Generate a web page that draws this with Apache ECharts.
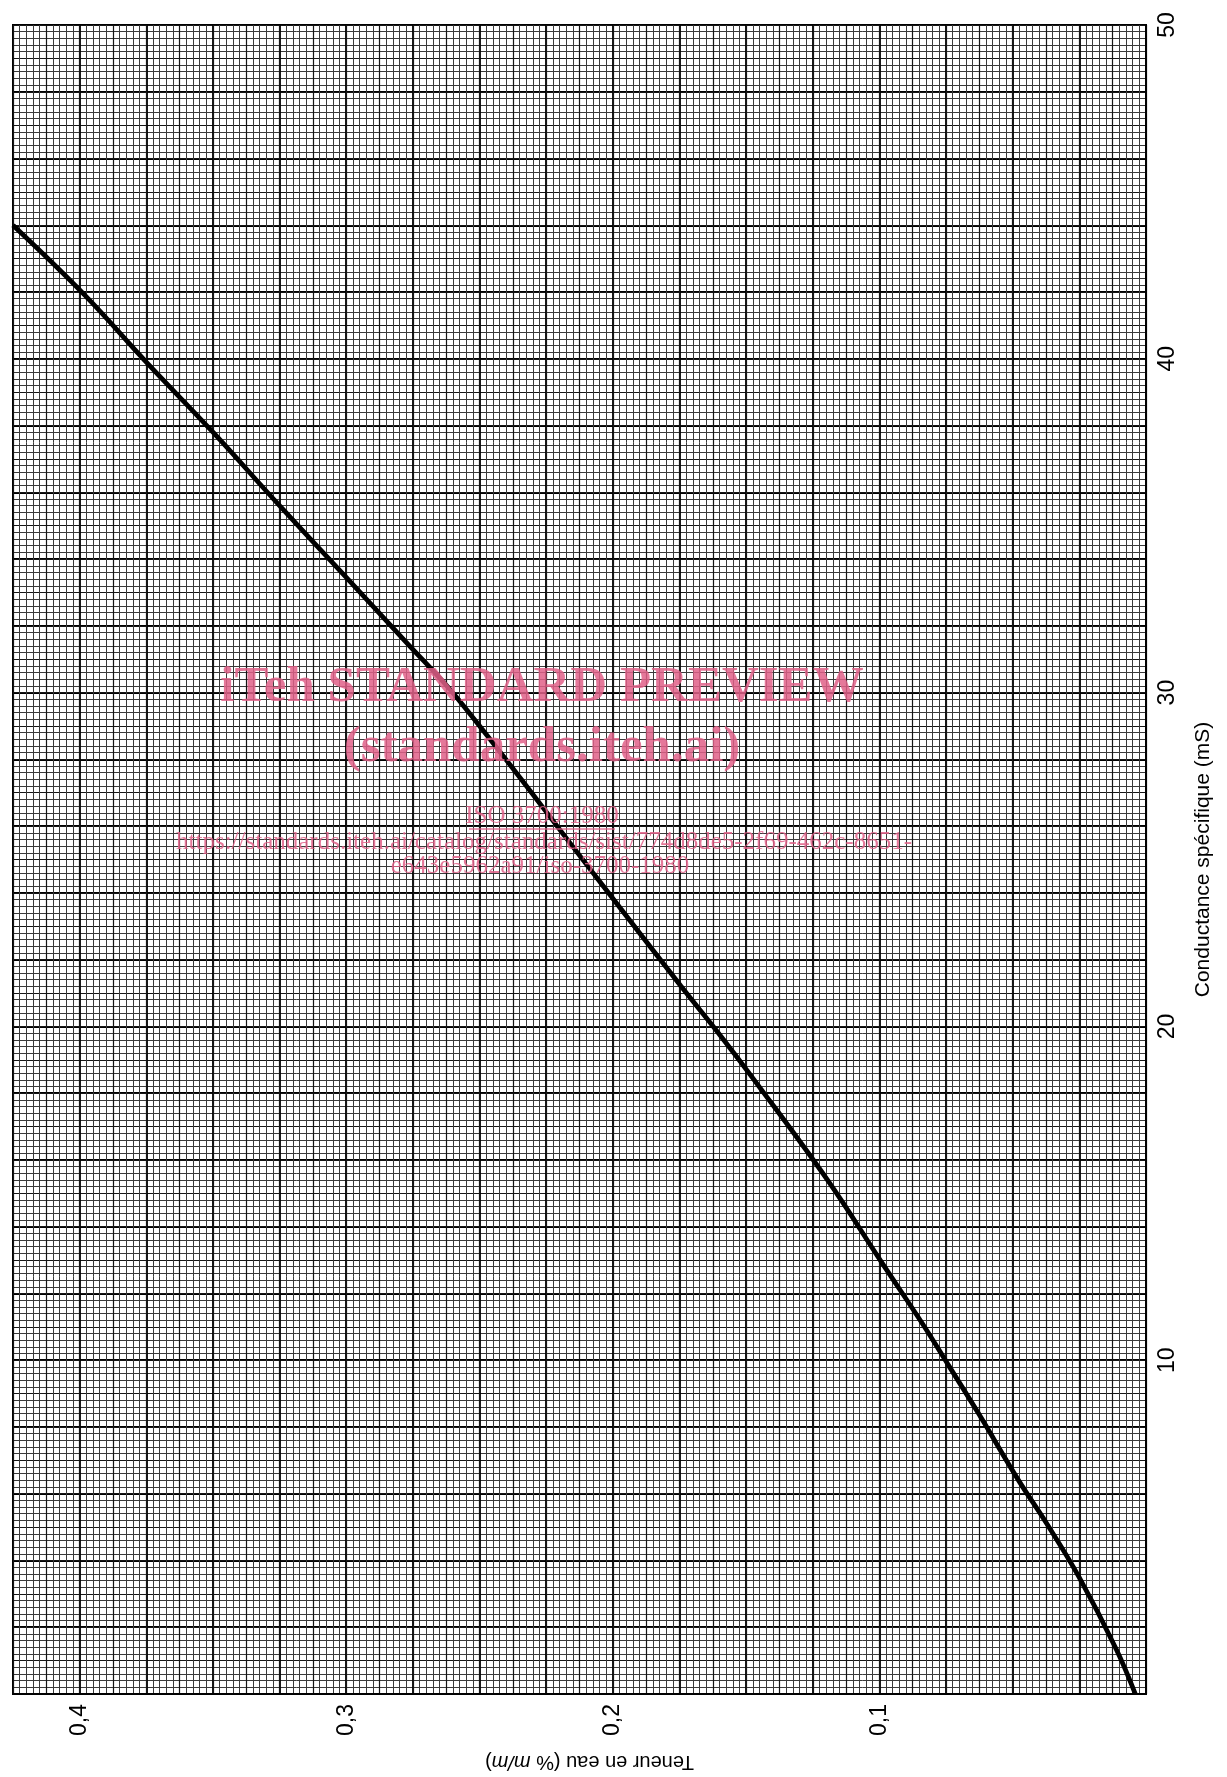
<!DOCTYPE html>
<html>
<head>
<meta charset="utf-8">
<script src="https://cdn.jsdelivr.net/npm/echarts/dist/echarts.min.js"></script>
<style>
html,body{margin:0;padding:0;background:#fff;}
#c{width:1227px;height:1777px;}
</style>
</head>
<body>
<div id="c"></div>
<script>
// Curve: water content (% m/m) vs specific conductance (mS)
const conductance = [0, 1.35, 3.5, 5.1, 6.4, 8.4, 9.8, 11.1, 12.9, 15.4, 18.4, 19.7, 21.2, 24.4, 29.8, 31.55, 33.45, 35.6, 37.8, 39.9, 41.9, 44.0];
const teneur      = [0.004, 0.0112, 0.0251, 0.0372, 0.0478, 0.0628, 0.0737, 0.0839, 0.0989, 0.1195, 0.147, 0.1594, 0.1744, 0.2055, 0.258, 0.278, 0.300, 0.325, 0.350, 0.375, 0.398, 0.425];

const conductanceTicks = [10, 20, 30, 40, 50];
const teneurTicks = [0.1, 0.2, 0.3, 0.4];

const FONT = 'Liberation Sans';
const SERIF = '"Liberation Serif", "DejaVu Serif", serif';
const PINK = 'rgba(224, 96, 136, 0.85)';

const smallLine = { color: '#3a3a3a', width: 1 };
const mediumLine = { color: '#151515', width: 1.2 };
const heavyLine = { color: '#000', width: 1.8 };

function tenLabel(v) {
  const t = teneurTicks.find(x => Math.abs(x - v) < 1e-9);
  return t === undefined ? '' : t.toFixed(1).replace('.', ',');
}
function condLabel(v) {
  const t = conductanceTicks.find(x => Math.abs(x - v) < 1e-9);
  return t === undefined ? '' : String(t);
}

const chart = echarts.init(document.getElementById('c'), null, { renderer: 'canvas' });

const option = {
  animation: false,
  backgroundColor: '#fff',
  grid: { left: 13, right: 81, top: 25, bottom: 82, show: true, borderColor: '#000', borderWidth: 2, backgroundColor: 'transparent' },
  xAxis: [
    {
      type: 'value', min: 0, max: 0.425, interval: 0.025, inverse: true, position: 'bottom',
      axisLine: { show: true, onZero: false, lineStyle: { color: '#000', width: 2 } },
      axisTick: { show: false },
      axisLabel: { rotate: 90, margin: 10, fontSize: 23, color: '#000', fontFamily: FONT, formatter: tenLabel, showMinLabel: false, showMaxLabel: false },
      splitLine: { show: true, lineStyle: heavyLine },
      minorTick: { show: false, splitNumber: 10 },
      minorSplitLine: { show: true, lineStyle: smallLine },
      name: 'Teneur en eau (% {i|m/m})',
      nameLocation: 'middle', nameRotate: 180, nameGap: 58,
      nameTextStyle: { fontSize: 20, fontFamily: FONT, color: '#000', padding: [0, 20, 0, 0],
        rich: { i: { fontStyle: 'italic', fontSize: 20, fontFamily: FONT, color: '#000' } } }
    },
    {
      type: 'value', min: 0, max: 0.425, interval: 0.0125, inverse: true, position: 'bottom',
      axisLine: { show: false }, axisTick: { show: false }, axisLabel: { show: false },
      splitLine: { show: true, lineStyle: mediumLine }
    }
  ],
  yAxis: [
    {
      type: 'value', min: 0, max: 50, interval: 2, position: 'right',
      axisLine: { show: true, onZero: false, lineStyle: { color: '#000', width: 2 } },
      axisTick: { show: false },
      axisLabel: { rotate: 90, margin: 10, fontSize: 23, color: '#000', fontFamily: FONT, formatter: condLabel },
      splitLine: { show: true, lineStyle: heavyLine },
      minorTick: { show: false, splitNumber: 10 },
      minorSplitLine: { show: true, lineStyle: smallLine },
      name: 'Conductance spécifique (mS)',
      nameLocation: 'middle', nameRotate: 90, nameGap: 47,
      nameTextStyle: { fontSize: 21, fontFamily: FONT, color: '#000' }
    },
    {
      type: 'value', min: 0, max: 50, interval: 1, position: 'right',
      axisLine: { show: false }, axisTick: { show: false }, axisLabel: { show: false },
      splitLine: { show: true, lineStyle: mediumLine }
    }
  ],
  series: [
    {
      type: 'line', xAxisIndex: 0, yAxisIndex: 0,
      data: teneur.map((t, i) => [t, conductance[i]]),
      symbol: 'none', showSymbol: false, smooth: 0.4,
      lineStyle: { color: '#000', width: 4.8 }, z: 5
    }
  ],
  graphic: [
    { type: 'text', x: 542, y: 688, z: 100, silent: true,
      style: { text: 'iTeh STANDARD PREVIEW', fill: PINK, font: 'bold 51px ' + SERIF, align: 'center', verticalAlign: 'middle' } },
    { type: 'text', x: 542, y: 748, z: 100, silent: true,
      style: { text: '(standards.iteh.ai)', fill: PINK, font: 'bold 51px ' + SERIF, align: 'center', verticalAlign: 'middle' } },
    { type: 'text', x: 542, y: 816, z: 100, silent: true,
      style: { text: 'ISO 3700:1980', fill: PINK, font: '25px ' + SERIF, align: 'center', verticalAlign: 'middle' } },
    { type: 'line', z: 100, silent: true,
      shape: { x1: 469, y1: 829, x2: 615, y2: 829 }, style: { stroke: PINK, lineWidth: 1.5 } },
    { type: 'text', x: 544, y: 842, z: 100, silent: true,
      style: { text: 'https://standards.iteh.ai/catalog/standards/sist/774d8de5-2f69-462c-8651-', fill: PINK, font: '25px ' + SERIF, align: 'center', verticalAlign: 'middle' } },
    { type: 'text', x: 540, y: 866, z: 100, silent: true,
      style: { text: 'e643e5962a91/iso-3700-1980', fill: PINK, font: '25px ' + SERIF, align: 'center', verticalAlign: 'middle' } }
  ]
};

chart.setOption(option);
</script>
</body>
</html>
